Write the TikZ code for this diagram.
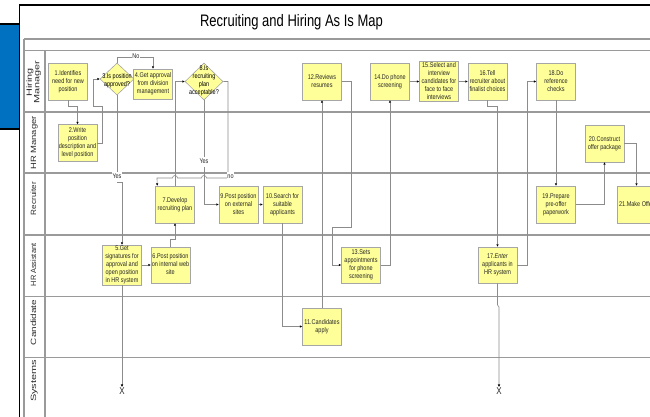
\documentclass[tikz,border=0pt]{standalone}
\usepackage{fontspec}
\setmainfont{Liberation Sans}
\usepackage{graphicx}
\usetikzlibrary{shapes.geometric,arrows.meta,calc}

\definecolor{boxfill}{HTML}{FFFF99}
\definecolor{boxline}{HTML}{A6A6A6}
\definecolor{laneline}{HTML}{9A9A9A}
\definecolor{conncol}{HTML}{8C8C8C}
\definecolor{panelblue}{HTML}{0070C0}
\definecolor{lanetext}{HTML}{2B2B2B}

% box text: small sans, slightly tall
\newcommand\bt[1]{\scalebox{1}[1.25]{\fontsize{5.5}{6.4}\selectfont\begin{tabular}{@{}c@{}}#1\end{tabular}}}
% lane titles, stretched along the reading direction
\newcommand\lt[2]{\scalebox{#1}[1]{\fontsize{7.6}{7.6}\selectfont\begin{tabular}{@{}c@{}}#2\end{tabular}}}

\begin{document}
\begin{tikzpicture}[x=1pt,y=-1pt,
  box/.style={draw=boxline, line width=0.6pt, fill=boxfill, minimum width=39pt,
    minimum height=37pt, inner sep=0pt, text=black!85},
  dia/.style={diamond, draw=boxline, line width=0.6pt, fill=boxfill, inner sep=0pt,
    minimum width=34pt, minimum height=32pt},
  conn/.style={draw=conncol, line width=0.6pt,
    -{Triangle[length=2.4pt,width=2.2pt,color=black]}},
  lbl/.style={fill=white, inner sep=0.6pt, text=black!85},
  lane/.style={rotate=90, inner sep=0pt, text=lanetext},
  endmark/.style={inner sep=0.5pt, text=black!85}]

\useasboundingbox (0,0) rectangle (650,416);
\clip (0,0) rectangle (650,416);

% side panel and page frame
\fill[panelblue] (0,24) rectangle (19,129);
\draw[black, line width=1.6pt] (0,24) -- (19,24) (0,129) -- (19,129);
\draw[black, line width=1.2pt] (19.8,417) -- (19.8,5) -- (651,5);

% title
\node (title) at (291.5,22) {\scalebox{1}[1.28]{\fontsize{13}{15}\selectfont Recruiting and Hiring As Is Map}};

% swimlane grid
\draw[laneline, line width=1.2pt]
  (24,39) -- (651,39)
  (24,50.5) -- (651,50.5)
  (24,112) -- (651,112)
  (24,173) -- (651,173)
  (24,235) -- (651,235)
  (24,296.5) -- (651,296.5)
  (24,357.5) -- (651,357.5)
  (24,39) -- (24,417)
  (45,50.5) -- (45,417);

% lane titles
\node[lane] (lhm) at (34,82.5) {\lt{1.43}{Hiring\\Manager}};
\node[lane] (lhr) at (34.5,143) {\lt{1.24}{HR Manager}};
\node[lane] (lrc) at (34.5,198.5) {\lt{1.07}{Recruiter}};
\node[lane] (lha) at (34.5,265) {\lt{0.97}{HR Assistant}};
\node[lane] (lca) at (34.5,322.5) {\lt{1.3}{Candidate}};
\node[lane] (lsy) at (34.5,381) {\lt{1.44}{Systems}};

% Hiring Manager lane
\node[box] (n1) at (68,81.5) {\bt{1.Identifies\\need for new\\position}};
\node[dia] (d3) at (117,79) {};
\node (t3) at (117,81) {\bt{3.Is position\\approved?}};
\node[box, minimum height=30pt] (n4) at (153,84) {\bt{4.Get approval\\from division\\management}};
\node[dia, minimum width=38pt, minimum height=37pt] (d8) at (204,81.5) {};
\node (t8) at (204,80.5) {\bt{8.Is\\recruiting\\plan\\acceptable?}};
\node[box] (n12) at (322,81.5) {\bt{12.Reviews\\resumes}};
\node[box] (n14) at (390,81.5) {\bt{14.Do phone\\screening}};
\node[box] (n15) at (439,81.5) {\bt{15.Select and\\interview\\candidates for\\face to face\\interviews}};
\node[box] (n16) at (487.5,81.5) {\bt{16.Tell\\recruiter about\\finalist choices}};
\node[box] (n18) at (556,81.5) {\bt{18.Do\\reference\\checks}};

% HR Manager lane
\node[box] (n2) at (77.5,143) {\bt{2.Write\\position\\description and\\level position}};
\node[box] (n20) at (604.5,143.5) {\bt{20.Construct\\offer package}};

% Recruiter lane
\node[box] (n7) at (175,204.5) {\bt{7.Develop\\recruiting plan}};
\node[box] (n9) at (238.5,204.5) {\bt{9.Post position\\on external\\sites}};
\node[box] (n10) at (282.5,204.5) {\bt{10.Search for\\suitable\\applicants}};
\node[box] (n19) at (556,204.5) {\bt{19.Prepare\\pre-offer\\paperwork}};
\node[box] (n21) at (636.5,204.5) {\bt{21.Make Offer}};

% HR Assistant lane
\node[box, minimum height=36pt] (n5) at (122,265) {\bt{5.Get\\signatures for\\approval and\\open position\\in HR system}};
\node[box, minimum height=36pt] (n6) at (170.5,265) {\bt{6.Post position\\on internal web\\site}};
\node[box, minimum height=36pt] (n13) at (361,265) {\bt{13.Sets\\appointments\\for phone\\screening}};
\node[box, minimum height=36pt] (n17) at (497.5,265) {\bt{17.\textit{Enter}\\applicants in\\HR system}};

% Candidate lane
\node[box] (n11) at (322,326.5) {\bt{11.Candidates\\apply}};

% Systems lane end marks
\node[endmark] (x1) at (122,391) {\scalebox{1}[1.25]{\fontsize{8}{9}\selectfont X}};
\node[endmark] (x2) at (499,391) {\scalebox{1}[1.25]{\fontsize{8}{9}\selectfont X}};

% connectors
\draw[conn] (n1.south) -- (68,106) -- (77.5,106) -- (n2.north);
\draw[conn] (n2.east) -| (102,106) -| (93,79) -- (d3.west);
\draw[conn] (d3.north) |- (153,57) -- (n4.north);
\node[lbl] (lno) at (136,57) {\bt{No}};
\draw[conn] (d3.south) -- (117,182) -- (122,182) -- (n5.north);
\node[lbl] (lyes1) at (117,177) {\bt{Yes}};
\draw[conn] (n5.east) -- (n6.west);
\draw[conn] (n5.south) -- (x1.north);
\draw[conn] (n6.north) -- ++(0,-7) -| (n7.south);
\draw[conn] (n7.north) |- (d8.west);
\draw[conn] (d8.east) -| (228,178) -- (206.5,178) arc (0:-180:2.5)
  -- (177.5,178) arc (0:-180:2.5) -- (157,178) -- ($(n7.north west)+(2,0)$);
\node[lbl] (lno2) at (230.5,177) {\bt{no}};
\draw[conn] (d8.south) |- (n9.west);
\node[lbl] (lyes2) at (204,162) {\bt{Yes}};
\draw[conn] (n9.east) -- (n10.west);
\draw[conn] (n10.south) |- (n11.west);
\draw[conn] (n11.north) -- (n12.south);
\draw[conn] (n12.east) -| (351,227) -| (332,265) -- (n13.west);
\draw[conn] (n13.east) -| (n14.south);
\draw[conn] (n14.east) -- (n15.west);
\draw[conn] (n15.east) -- (n16.west);
\draw[conn] (n16.south) -- ++(0,6) -| (n17.north);
\draw[conn] (n17.east) -- ++(10,0) |- (n18.west);
\draw[conn] (n17.south) -- (497.5,305) -- (499,307) -- (x2.north);
\draw[conn] (n18.south) -- (n19.north);
\draw[conn] (n19.east) -| (n20.south);
\draw[conn] (n20.east) -| (n21.north);
\end{tikzpicture}
\end{document}
